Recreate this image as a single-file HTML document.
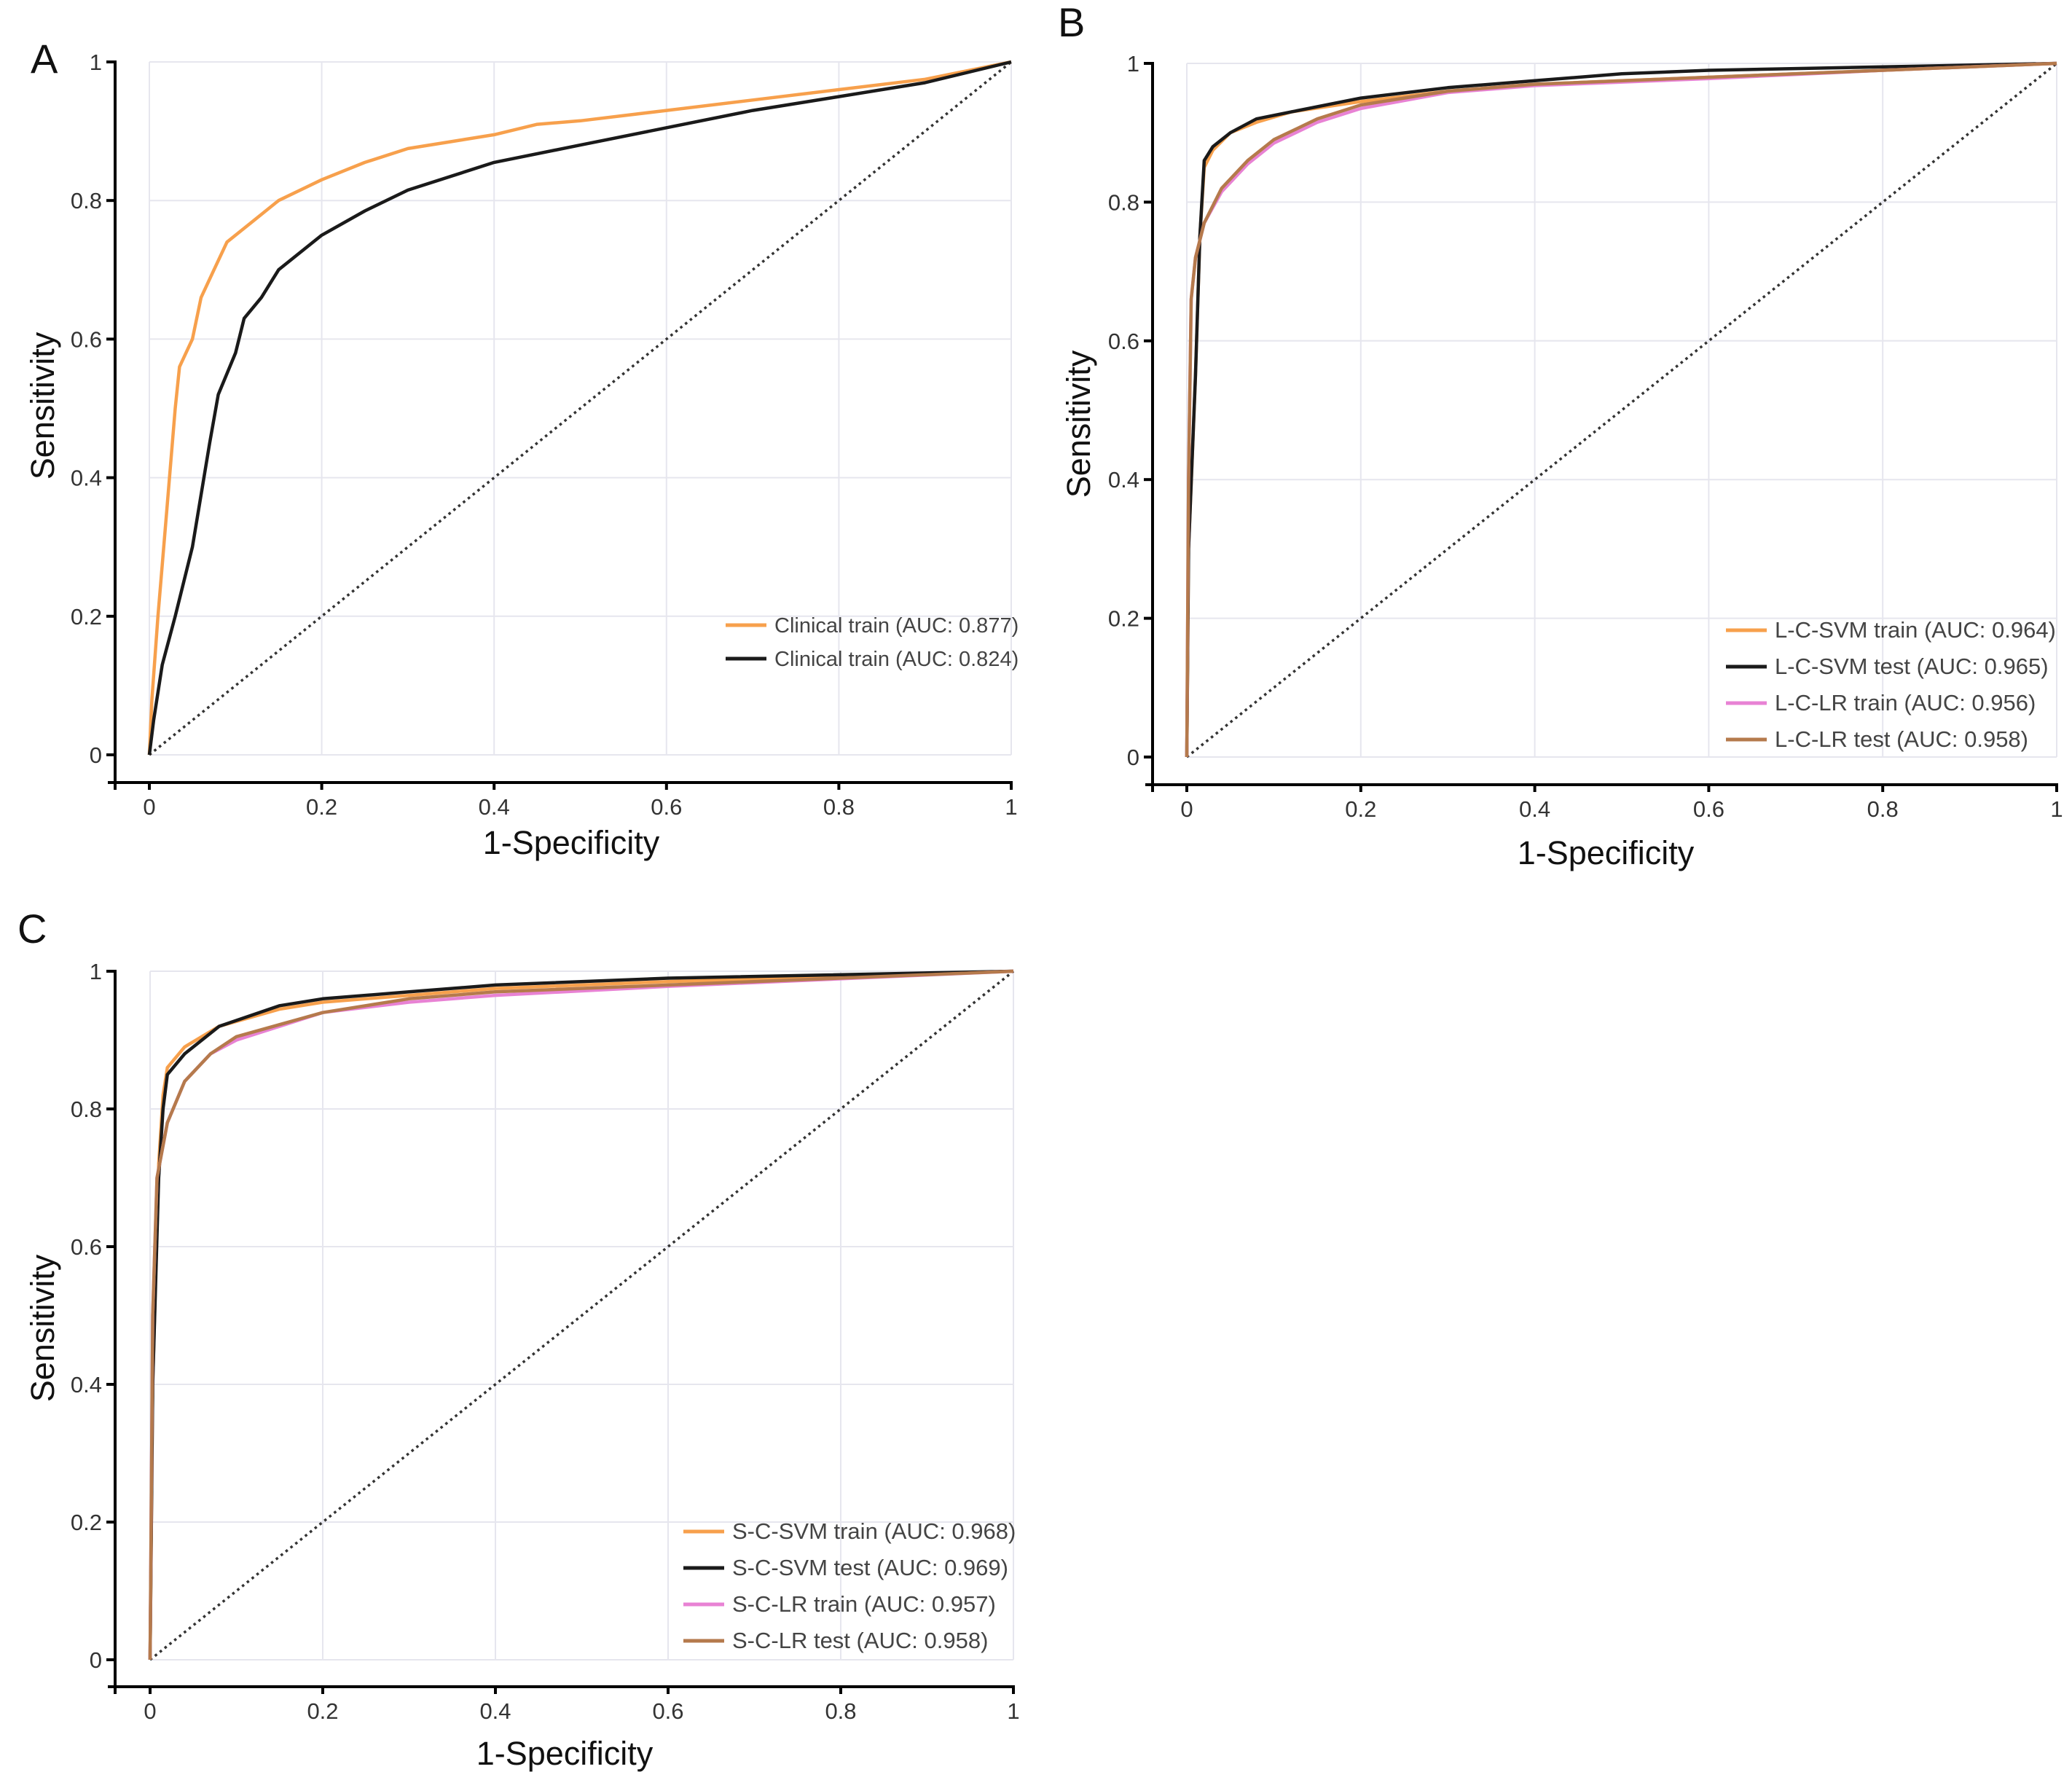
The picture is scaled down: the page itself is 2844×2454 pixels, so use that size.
<!DOCTYPE html>
<html><head><meta charset="utf-8"><style>
html,body{margin:0;padding:0;background:#fff;}
svg{display:block;font-family:"Liberation Sans",sans-serif;}
</style></head><body>
<svg id="fig" width="2844" height="2454" viewBox="0 0 2844 2454" xmlns="http://www.w3.org/2000/svg"></svg>
<script>
const ticks = [0, 0.2, 0.4, 0.6, 0.8, 1];
const tickLabels = ["0", "0.2", "0.4", "0.6", "0.8", "1"];

const aOrangeX = [0,0.003,0.01,0.02,0.03,0.035,0.05,0.06,0.075,0.09,0.12,0.15,0.2,0.25,0.3,0.4,0.45,0.5,0.6,0.7,0.8,0.9,1];
const aOrangeY = [0,0.08,0.2,0.35,0.5,0.56,0.6,0.66,0.7,0.74,0.77,0.8,0.83,0.855,0.875,0.895,0.91,0.915,0.93,0.945,0.96,0.975,1];
const aBlackX = [0,0.005,0.015,0.03,0.05,0.07,0.08,0.1,0.11,0.13,0.15,0.2,0.25,0.3,0.4,0.5,0.6,0.7,0.8,0.9,1];
const aBlackY = [0,0.05,0.13,0.2,0.3,0.45,0.52,0.58,0.63,0.66,0.7,0.75,0.785,0.815,0.855,0.88,0.905,0.93,0.95,0.97,1];

const bSvmTrainX = [0,0.002,0.01,0.015,0.02,0.03,0.05,0.08,0.12,0.2,0.3,0.4,0.5,0.6,0.8,1];
const bSvmTrainY = [0,0.3,0.55,0.75,0.85,0.875,0.9,0.915,0.93,0.945,0.96,0.97,0.975,0.98,0.99,1];
const bSvmTestX = [0,0.002,0.01,0.015,0.02,0.03,0.05,0.08,0.12,0.2,0.3,0.4,0.5,0.6,0.8,1];
const bSvmTestY = [0,0.3,0.55,0.75,0.86,0.88,0.9,0.92,0.93,0.95,0.965,0.975,0.985,0.99,0.995,1];
const bLrTrainX = [0,0.002,0.005,0.01,0.02,0.04,0.07,0.1,0.15,0.2,0.3,0.4,0.6,0.8,1];
const bLrTrainY = [0,0.4,0.66,0.72,0.77,0.815,0.855,0.885,0.915,0.935,0.958,0.968,0.978,0.99,1];
const bLrTestX = [0,0.002,0.005,0.01,0.02,0.04,0.07,0.1,0.15,0.2,0.3,0.4,0.6,0.8,1];
const bLrTestY = [0,0.4,0.66,0.72,0.77,0.82,0.86,0.89,0.92,0.94,0.96,0.97,0.98,0.99,1];

const cSvmTrainX = [0,0.003,0.01,0.015,0.02,0.04,0.08,0.15,0.2,0.3,0.4,0.6,1];
const cSvmTrainY = [0,0.4,0.72,0.82,0.86,0.89,0.92,0.945,0.955,0.965,0.975,0.985,1];
const cSvmTestX = [0,0.003,0.01,0.015,0.02,0.04,0.08,0.15,0.2,0.3,0.4,0.6,1];
const cSvmTestY = [0,0.4,0.7,0.8,0.85,0.88,0.92,0.95,0.96,0.97,0.98,0.99,1];
const cLrTrainX = [0,0.003,0.008,0.02,0.04,0.07,0.1,0.2,0.3,0.4,0.6,1];
const cLrTrainY = [0,0.5,0.7,0.78,0.84,0.88,0.9,0.94,0.955,0.965,0.978,1];
const cLrTestX = [0,0.003,0.008,0.02,0.04,0.07,0.1,0.2,0.3,0.4,0.6,1];
const cLrTestY = [0,0.5,0.7,0.78,0.84,0.88,0.905,0.94,0.96,0.97,0.98,1];

const NS = "http://www.w3.org/2000/svg";
const svg = document.getElementById('fig');
function mk(tag, attrs, parent) {
  const e = document.createElementNS(NS, tag);
  for (const k in attrs) e.setAttribute(k, attrs[k]);
  (parent || svg).appendChild(e);
  return e;
}

function panel(cfg) {
  const g = mk('g', {});
  
  
  const sx = v => cfg.x0 + v * (cfg.x1 - cfg.x0);
  const sy = v => cfg.y0 - v * (cfg.y0 - cfg.y1);
  // grid
  ticks.forEach((t, i) => {
    const gl = mk('line', {x1: sx(t), x2: sx(t), y1: sy(1), y2: sy(0), stroke: '#e6e6ee', 'stroke-width': 2}, g);
    
    
    const gh = mk('line', {x1: sx(0), x2: sx(1), y1: sy(t), y2: sy(t), stroke: '#e6e6ee', 'stroke-width': 2}, g);
    
    
  });
  // axes
  const ax = mk('line', {x1: cfg.axL, x2: cfg.axL, y1: sy(1) - 2, y2: cfg.axB + 2, stroke: '#000', 'stroke-width': 4}, g);
  
  
  const bx = mk('line', {x1: cfg.axL - 10, x2: sx(1) + 2, y1: cfg.axB, y2: cfg.axB, stroke: '#000', 'stroke-width': 4}, g);
  
  
  const tl = mk('line', {x1: cfg.axL, x2: cfg.axL, y1: cfg.axB, y2: cfg.axB + 10, stroke: '#000', 'stroke-width': 4}, g);
  
  
  ticks.forEach((t, i) => {
    const xt = mk('line', {x1: sx(t), x2: sx(t), y1: cfg.axB, y2: cfg.axB + 10, stroke: '#000', 'stroke-width': 4}, g);
    
    
    const xl = mk('text', {x: sx(t), y: cfg.axB + 44, 'font-size': 31, fill: '#333', 'text-anchor': 'middle'}, g);
    xl.textContent = tickLabels[i];
    
    
    const yt = mk('line', {x1: cfg.axL - 12, x2: cfg.axL, y1: sy(t), y2: sy(t), stroke: '#000', 'stroke-width': 4}, g);
    
    
    const yl = mk('text', {x: cfg.axL - 18, y: sy(t) + 11, 'font-size': 31, fill: '#333', 'text-anchor': 'end'}, g);
    yl.textContent = tickLabels[i];
    
    
  });
  // diagonal
  const dg = mk('line', {x1: sx(0), y1: sy(0), x2: sx(1), y2: sy(1), stroke: '#333', 'stroke-width': 3.5, 'stroke-dasharray': '3.5 5'}, g);
  
  
  // series
  cfg.series.forEach(s => {
    const d = s.xs.map((x, i) => (i ? 'L' : 'M') + sx(x).toFixed(1) + ',' + sy(s.ys[i]).toFixed(1)).join(' ');
    const p = mk('path', {d: d, fill: 'none', stroke: s.color, 'stroke-width': 4.5, 'stroke-linejoin': 'round'}, g);
    
    
  });
  // legend
  cfg.series.slice().forEach((s, i) => {
    const y = cfg.legY + i * cfg.legStep;
    const ll = mk('line', {x1: cfg.legX, x2: cfg.legX + 56, y1: y, y2: y, stroke: s.color, 'stroke-width': 5}, g);
    
    
    const lt = mk('text', {x: cfg.legX + 67, y: y + 10, 'font-size': cfg.legFont, fill: '#444'}, g);
    lt.textContent = s.label;
    
    
  });
  // titles
  const xt = mk('text', {x: cfg.xtX, y: cfg.xtY, 'font-size': 45, fill: '#111', 'text-anchor': 'middle'}, g);
  xt.textContent = '1-Specificity';
  
  
  const yt = mk('text', {x: 0, y: 0, 'font-size': 45, fill: '#111', 'text-anchor': 'middle', transform: 'translate(' + cfg.ytX + ',' + cfg.ytY + ') rotate(-90)'}, g);
  yt.textContent = 'Sensitivity';
  
  
  const lt = mk('text', {x: cfg.lX, y: cfg.lY, 'font-size': 56, fill: '#111'}, g);
  lt.textContent = cfg.letter;
  
  
}

const ORANGE = '#F7A04C', BLACK = '#1a1a1a', PINK = '#E882D4', BROWN = '#B57A4C';

panel({letter: 'A', x0: 205, x1: 1388, y1: 85, y0: 1036, axL: 158, axB: 1074,
  legX: 996, legY: 858, legStep: 46, legFont: 29,
  xtX: 784, xtY: 1172, ytX: 74, ytY: 557, lX: 42, lY: 100,
  series: [
    {name: 'clinical-train-orange', color: ORANGE, xs: aOrangeX, ys: aOrangeY, label: 'Clinical train (AUC: 0.877)'},
    {name: 'clinical-train-black', color: BLACK, xs: aBlackX, ys: aBlackY, label: 'Clinical train (AUC: 0.824)'}
  ]});

panel({letter: 'B', x0: 1629, x1: 2823, y1: 87, y0: 1039, axL: 1582, axB: 1077,
  legX: 2369, legY: 865, legStep: 50, legFont: 31,
  xtX: 2204, xtY: 1186, ytX: 1496, ytY: 582, lX: 1452, lY: 50,
  series: [
    {name: 'l-c-svm-train', color: ORANGE, xs: bSvmTrainX, ys: bSvmTrainY, label: 'L-C-SVM train (AUC: 0.964)'},
    {name: 'l-c-svm-test', color: BLACK, xs: bSvmTestX, ys: bSvmTestY, label: 'L-C-SVM test (AUC: 0.965)'},
    {name: 'l-c-lr-train', color: PINK, xs: bLrTrainX, ys: bLrTrainY, label: 'L-C-LR train (AUC: 0.956)'},
    {name: 'l-c-lr-test', color: BROWN, xs: bLrTestX, ys: bLrTestY, label: 'L-C-LR test (AUC: 0.958)'}
  ]});

panel({letter: 'C', x0: 206, x1: 1391, y1: 1333, y0: 2278, axL: 158, axB: 2315,
  legX: 938, legY: 2102, legStep: 50, legFont: 31,
  xtX: 775, xtY: 2422, ytX: 74, ytY: 1823, lX: 24, lY: 1294,
  series: [
    {name: 's-c-svm-train', color: ORANGE, xs: cSvmTrainX, ys: cSvmTrainY, label: 'S-C-SVM train  (AUC: 0.968)'},
    {name: 's-c-svm-test', color: BLACK, xs: cSvmTestX, ys: cSvmTestY, label: 'S-C-SVM test (AUC: 0.969)'},
    {name: 's-c-lr-train', color: PINK, xs: cLrTrainX, ys: cLrTrainY, label: 'S-C-LR train  (AUC: 0.957)'},
    {name: 's-c-lr-test', color: BROWN, xs: cLrTestX, ys: cLrTestY, label: 'S-C-LR test (AUC: 0.958)'}
  ]});
</script>
</body></html>
